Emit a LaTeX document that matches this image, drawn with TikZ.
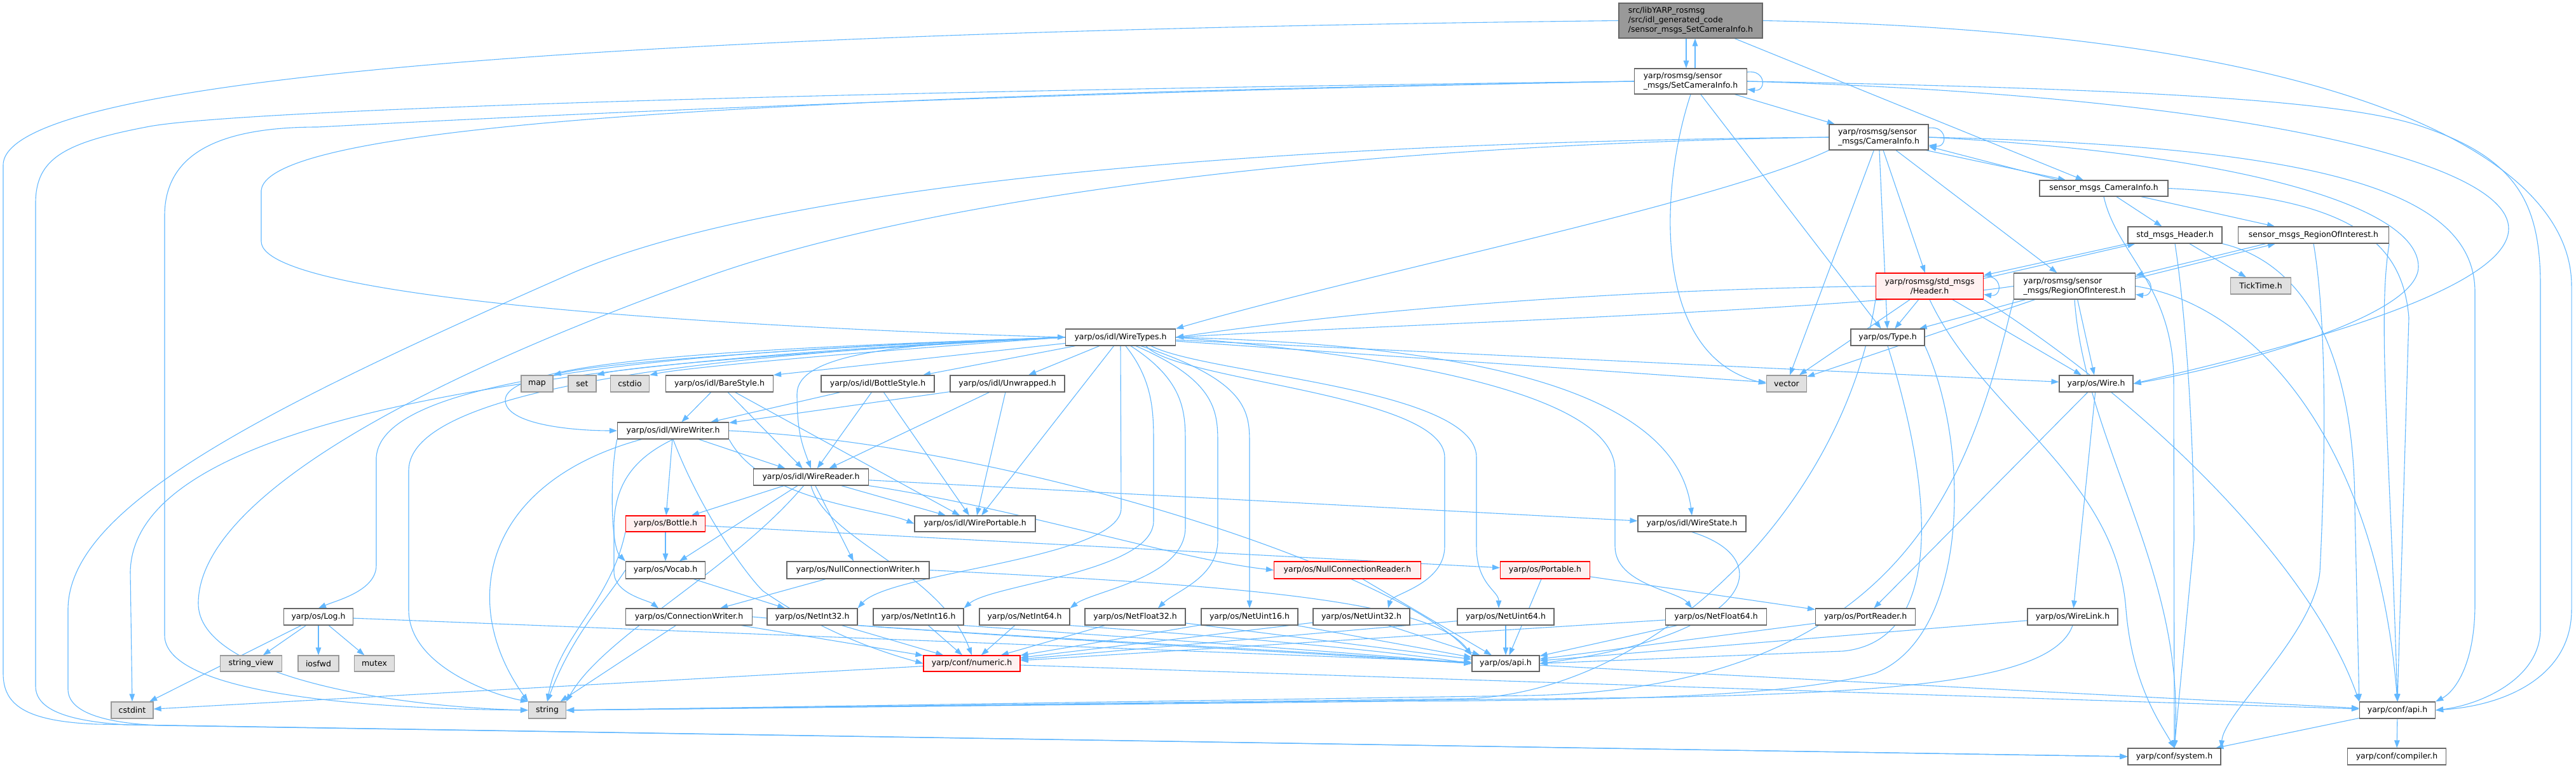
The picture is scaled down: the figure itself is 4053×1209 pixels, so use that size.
\documentclass[tikz,border=0pt]{standalone}
\usepackage{fontspec}
\setmainfont{DejaVu Sans}
\usepackage{xcolor}
\usepackage{tikz}
\usetikzlibrary{arrows.meta,backgrounds}
\definecolor{edgeblue}{HTML}{63B8FF}
\definecolor{boxline}{HTML}{666666}
\definecolor{extline}{HTML}{999999}
\definecolor{extfill}{HTML}{E0E0E0}
\definecolor{rootfill}{HTML}{999999}
\definecolor{truncfill}{HTML}{FFF0F0}
\tikzset{
  filebox/.style={
    rectangle, draw=boxline, fill=white, line width=1.2pt,
    font=\fontsize{12.5}{15}\selectfont, align=left, inner sep=0pt
  },
  extbox/.style={filebox, draw=extline, fill=extfill},
  truncbox/.style={filebox, draw=red, fill=truncfill},
  rootbox/.style={filebox, fill=rootfill},
  incl/.style={->, >={Triangle[length=12pt,width=8.5pt]}, line width=1.1pt, color=edgeblue},
}

\begin{document}
\begin{tikzpicture}[x=1pt, y=-1pt]
  \useasboundingbox (0,0) rectangle (4053,1209);

  % rosmsg headers
  \node[rootbox, minimum width=226pt, minimum height=55pt] (root) at (2660,32.5)
        {src/libYARP\_rosmsg\\/src/idl\_generated\_code\\/sensor\_msgs\_SetCameraInfo.h};
  \node[filebox, minimum width=177pt, minimum height=40pt] (sci) at (2660,128)
        {yarp/rosmsg/sensor\\\_msgs/SetCameraInfo.h};
  \node[filebox, minimum width=156pt, minimum height=40pt] (ci) at (2956,216)
        {yarp/rosmsg/sensor\\\_msgs/CameraInfo.h};
  \node[filebox, minimum width=202pt, minimum height=25pt] (smci) at (3310,296.5) {sensor\_msgs\_CameraInfo.h};
  \node[filebox, minimum width=148pt, minimum height=26pt] (smhdr) at (3422,370) {std\_msgs\_Header.h};
  \node[filebox, minimum width=237pt, minimum height=26pt] (smroi) at (3640,370) {sensor\_msgs\_RegionOfInterest.h};
  \node[truncbox, align=center, minimum width=169pt, minimum height=41pt] (hdr) at (3036,450.5)
        {yarp/rosmsg/std\_msgs\\/Header.h};
  \node[filebox, minimum width=191pt, minimum height=41pt] (roi) at (3264,450.5)
        {yarp/rosmsg/sensor\\\_msgs/RegionOfInterest.h};
  \node[extbox, minimum width=95pt, minimum height=26pt] (tick) at (3557,450) {TickTime.h};

  % yarp/os row
  \node[filebox, minimum width=116pt, minimum height=26pt] (type) at (2970,531) {yarp/os/Type.h};
  \node[extbox, minimum width=63pt, minimum height=26pt] (vec) at (2811,604) {vector};
  \node[filebox, minimum width=116pt, minimum height=26pt] (wire) at (3298,604) {yarp/os/Wire.h};

  % idl headers
  \node[filebox, minimum width=173pt, minimum height=26pt] (wtypes) at (1763,531) {yarp/os/idl/WireTypes.h};
  \node[extbox, minimum width=50pt, minimum height=26pt] (map) at (845,604) {map};
  \node[extbox, minimum width=44pt, minimum height=26pt] (set) at (916,604) {set};
  \node[extbox, minimum width=61pt, minimum height=26pt] (cstdio) at (991,604) {cstdio};
  \node[filebox, minimum width=169pt, minimum height=26pt] (bare) at (1132,604) {yarp/os/idl/BareStyle.h};
  \node[filebox, minimum width=178pt, minimum height=26pt] (bstyle) at (1381,604) {yarp/os/idl/BottleStyle.h};
  \node[filebox, minimum width=180pt, minimum height=26pt] (unwr) at (1585,604) {yarp/os/idl/Unwrapped.h};
  \node[filebox, minimum width=175pt, minimum height=26pt] (wwriter) at (1059,678) {yarp/os/idl/WireWriter.h};
  \node[filebox, minimum width=181pt, minimum height=26pt] (wreader) at (1276,751) {yarp/os/idl/WireReader.h};
  \node[filebox, minimum width=190pt, minimum height=25pt] (wport) at (1534,824.5) {yarp/os/idl/WirePortable.h};
  \node[filebox, minimum width=170pt, minimum height=25pt] (wstate) at (2662,824.5) {yarp/os/idl/WireState.h};

  % os headers
  \node[truncbox, minimum width=125pt, minimum height=25pt] (bottle) at (1047,824.5) {yarp/os/Bottle.h};
  \node[filebox, minimum width=125pt, minimum height=27pt] (vocab) at (1047,897.5) {yarp/os/Vocab.h};
  \node[filebox, minimum width=224pt, minimum height=27pt] (ncw) at (1350,897.5) {yarp/os/NullConnectionWriter.h};
  \node[truncbox, minimum width=231pt, minimum height=27pt] (ncr) at (2120,897.5) {yarp/os/NullConnectionReader.h};
  \node[truncbox, minimum width=141pt, minimum height=27pt] (portable) at (2431,897.5) {yarp/os/Portable.h};

  % net types row
  \node[filebox, minimum width=109pt, minimum height=26pt] (log) at (501,971) {yarp/os/Log.h};
  \node[filebox, minimum width=199pt, minimum height=26pt] (cw) at (1084,971) {yarp/os/ConnectionWriter.h};
  \node[filebox, minimum width=142pt, minimum height=26pt] (ni32) at (1278,971) {yarp/os/NetInt32.h};
  \node[filebox, minimum width=142pt, minimum height=26pt] (ni16) at (1445,971) {yarp/os/NetInt16.h};
  \node[filebox, minimum width=142pt, minimum height=26pt] (ni64) at (1612,971) {yarp/os/NetInt64.h};
  \node[filebox, minimum width=158pt, minimum height=26pt] (nf32) at (1786,971) {yarp/os/NetFloat32.h};
  \node[filebox, minimum width=152pt, minimum height=26pt] (nu16) at (1966,971) {yarp/os/NetUint16.h};
  \node[filebox, minimum width=152pt, minimum height=26pt] (nu32) at (2142,971) {yarp/os/NetUint32.h};
  \node[filebox, minimum width=152pt, minimum height=26pt] (nu64) at (2369,971) {yarp/os/NetUint64.h};
  \node[filebox, minimum width=159pt, minimum height=26pt] (nf64) at (2700,971) {yarp/os/NetFloat64.h};
  \node[filebox, minimum width=157pt, minimum height=26pt] (preader) at (2935,971) {yarp/os/PortReader.h};
  \node[filebox, minimum width=142pt, minimum height=26pt] (wlink) at (3261,971) {yarp/os/WireLink.h};

  % bottom rows
  \node[extbox, minimum width=97pt, minimum height=25pt] (sview) at (395,1044.5) {string\_view};
  \node[extbox, minimum width=64pt, minimum height=25pt] (iosfwd) at (501,1044.5) {iosfwd};
  \node[extbox, minimum width=63pt, minimum height=25pt] (mutex) at (589,1044.5) {mutex};
  \node[truncbox, minimum width=152pt, minimum height=25pt] (numeric) at (1529,1044.5) {yarp/conf/numeric.h};
  \node[filebox, minimum width=106pt, minimum height=25pt] (osapi) at (2369,1044.5) {yarp/os/api.h};
  \node[extbox, minimum width=66pt, minimum height=26pt] (cstdint) at (208,1118) {cstdint};
  \node[extbox, minimum width=59pt, minimum height=26pt] (str) at (861,1118) {string};
  \node[filebox, minimum width=119pt, minimum height=26pt] (capi) at (3772,1118) {yarp/conf/api.h};
  \node[filebox, minimum width=146pt, minimum height=26pt] (csys) at (3421,1191) {yarp/conf/system.h};
  \node[filebox, minimum width=155pt, minimum height=26pt] (ccomp) at (3771,1191) {yarp/conf/compiler.h};

  \begin{scope}[on background layer]
  % root file
  \draw[incl] ([xshift=-7pt]root.south) -- ([xshift=-7pt]sci.north);
  \draw[incl] ([xshift=7pt]sci.north) -- ([xshift=7pt]root.south);
  \draw[incl] (root) -- (smci);
  \draw[incl] (root.east) .. controls (3700,50) and (4046,250) .. (4046,450) -- (4046,960)
        .. controls (4046,1060) and (3950,1110) .. (capi.east);
  \draw[incl] (root.west) .. controls (1000,50) and (5,120) .. (5,260) -- (5,1060)
        .. controls (5,1110) and (40,1135) .. (150,1140) -- (csys.west);

  % SetCameraInfo
  \draw[incl] ([yshift=-6pt]sci.north east) .. controls +(30,-4) and +(30,4) .. ([yshift=8pt]sci.south east);
  \draw[incl] (sci) -- (ci);
  \draw[incl] (sci) -- (type);
  \draw[incl] (sci.south) .. controls (2610,300) and (2600,560) .. (vec.west);
  \draw[incl] (sci.west) .. controls (1300,150) and (420,190) .. (411,300) -- (411,380)
        .. controls (411,480) and (1300,520) .. (wtypes.west);
  \draw[incl] (sci.west) .. controls (1200,145) and (350,175) .. (230,200)
        .. controls (100,225) and (56,250) .. (56,320) -- (56,1080)
        .. controls (56,1115) and (100,1135) .. (200,1141) -- (csys.west);
  \draw[incl] (sci.west) .. controls (1400,150) and (600,195) .. (500,200)
        .. controls (330,200) and (259,250) .. (259,340) -- (259,1000)
        .. controls (259,1080) and (500,1115) .. (str.west);
  \draw[incl] (sci.east) .. controls (3500,150) and (3947,250) .. (3947,360)
        .. controls (3947,470) and (3500,570) .. (wire.east);
  \draw[incl] (sci.east) .. controls (3400,140) and (3700,160) .. (3813,200)
        .. controls (3960,250) and (3997,320) .. (3997,450) -- (3997,990)
        .. controls (3997,1070) and (3900,1110) .. (capi.east);

  % CameraInfo
  \draw[incl] ([yshift=-6pt]ci.north east) .. controls +(30,-4) and +(30,4) .. ([yshift=8pt]ci.south east);
  \draw[incl] ([xshift=-4pt]ci.south east) -- ([xshift=-60pt]smci.north);
  \draw[incl] ([xshift=-72pt]smci.north) -- ([yshift=6pt]ci.south east);
  \draw[incl] (ci) -- (hdr);
  \draw[incl] (ci) -- (roi);
  \draw[incl] (ci) -- (type);
  \draw[incl] (ci) -- (vec);
  \draw[incl] (ci.south west) .. controls (2700,320) and (2150,430) .. (wtypes.north east);
  \draw[incl] (ci.east) .. controls (3500,240) and (3805,320) .. (3805,420)
        .. controls (3805,500) and (3500,580) .. (wire.east);
  \draw[incl] (ci.east) .. controls (3650,230) and (3894,300) .. (3894,460) -- (3894,950)
        .. controls (3894,1050) and (3860,1090) .. (capi.north east);
  \draw[incl] (ci.west) .. controls (1900,225) and (1200,300) .. (900,430)
        .. controls (400,650) and (107,800) .. (107,960) -- (107,1085)
        .. controls (107,1120) and (160,1138) .. (250,1142) -- (csys.west);
  \draw[incl] (ci.west) .. controls (2000,230) and (1400,330) .. (1100,440)
        .. controls (600,620) and (312,800) .. (312,950)
        .. controls (312,1060) and (600,1112) .. (str.west);

  % generated message headers
  \draw[incl] (smci) -- (smhdr);
  \draw[incl] (smci) -- (smroi);
  \draw[incl] (smci.south) .. controls (3330,400) and (3420,450) .. (3420,600) -- (csys.north);
  \draw[incl] (smci.east) .. controls (3700,310) and (3780,380) .. (3790,500) -- (capi.north);
  \draw[incl] (smhdr.south west) -- ([yshift=-4pt]hdr.north east);
  \draw[incl] ([yshift=-9pt]hdr.north east) -- ([xshift=12pt]smhdr.south west);
  \draw[incl] (smhdr) -- (tick);
  \draw[incl] (smhdr.south) .. controls (3440,500) and (3452,700) .. (3452,850) -- (csys.north);
  \draw[incl] (smhdr.south east) .. controls (3650,420) and (3705,600) .. (3705,800) -- (capi.north west);
  \draw[incl] ([xshift=-75pt]smroi.south) -- ([yshift=-4pt]roi.north east);
  \draw[incl] ([yshift=-9pt]roi.north east) -- ([xshift=-60pt]smroi.south);
  \draw[incl] (smroi.south) .. controls (3660,500) and (3660,700) .. (3650,900)
        .. controls (3640,1000) and (3500,1120) .. (csys.north east);
  \draw[incl] (smroi.south east) .. controls (3740,500) and (3760,700) .. (capi.north);

  % Header
  \draw[incl] ([yshift=-6pt]hdr.north east) .. controls +(30,-4) and +(30,4) .. ([yshift=8pt]hdr.south east);
  \draw[incl] (hdr) -- (type);
  \draw[incl] (hdr) -- (vec);
  \draw[incl] (hdr) -- (wire);
  \draw[incl] (hdr.west) .. controls (2600,455) and (2200,480) .. (wtypes.east);
  \draw[incl] (hdr.south) .. controls (3120,650) and (3330,750) .. (3345,960)
        .. controls (3355,1080) and (3400,1140) .. (csys.north);
  \draw[incl] (hdr.south east) .. controls (3400,650) and (3640,900) .. (capi.north west);
  \draw[incl] (hdr.south west) .. controls (2900,800) and (2600,1095) .. (2300,1100) -- (str.east);

  % RegionOfInterest
  \draw[incl] ([yshift=-6pt]roi.north east) .. controls +(30,-4) and +(30,4) .. ([yshift=8pt]roi.south east);
  \draw[incl] (roi) -- (type);
  \draw[incl] (roi) -- (vec);
  \draw[incl] (roi) -- (wire);
  \draw[incl] (roi.west) .. controls (2900,490) and (2200,510) .. (wtypes.east);
  \draw[incl] (roi.south) .. controls (3280,700) and (3440,900) .. (csys.north);
  \draw[incl] (roi.east) .. controls (3550,480) and (3740,700) .. (capi.north);
  \draw[incl] (roi.south west) .. controls (3100,750) and (3000,1085) .. (2400,1095) -- (str.east);

  % Type, Wire and friends
  \draw[incl] (type.south) .. controls (3050,800) and (3050,1010) .. (2900,1025) -- (osapi.east);
  \draw[incl] (type.south east) .. controls (3100,700) and (3100,1000) .. (2950,1060)
        .. controls (2800,1100) and (2500,1102) .. (2200,1104) -- (str.east);
  \draw[incl] (wire) -- (preader);
  \draw[incl] (wire) -- (wlink);
  \draw[incl] (wstate.south) .. controls (2800,880) and (2760,1000) .. (osapi.east);
  \draw[incl] (preader) -- (osapi);
  \draw[incl] (wlink) -- (osapi);
  \draw[incl] (wlink.south) .. controls (3230,1070) and (3000,1090) .. (2600,1098) -- (str.east);

  % WireTypes
  \draw[incl] (wtypes.west) .. controls (1300,545) and (950,570) .. (map.north east);
  \draw[incl] (wtypes.west) .. controls (1350,548) and (1000,575) .. (set.north east);
  \draw[incl] (wtypes.west) .. controls (1400,550) and (1080,578) .. (cstdio.north east);
  \draw[incl] (wtypes) -- (bare.north east);
  \draw[incl] (wtypes) -- (bstyle);
  \draw[incl] (wtypes) -- (unwr);
  \draw[incl] (wtypes) -- (wport);
  \draw[incl] (wtypes) -- (vec);
  \draw[incl] (wtypes) -- (wire);
  \draw[incl] (wtypes.west) .. controls (1200,548) and (795,565) .. (795,630)
        .. controls (795,668) and (900,678) .. (wwriter.west);
  \draw[incl] (wtypes.west) .. controls (1400,540) and (1254,560) .. (1254,620)
        .. controls (1254,680) and (1262,700) .. (wreader.north);
  \draw[incl] (wtypes.east) .. controls (2400,545) and (2640,640) .. (wstate.north);
  \draw[incl] (wtypes.west) .. controls (1000,555) and (600,600) .. (592,720) -- (592,890)
        .. controls (592,930) and (530,945) .. (log.north);
  \draw[incl] (wtypes.west) .. controls (1050,560) and (645,620) .. (643,740) -- (643,960)
        .. controls (643,1050) and (780,1095) .. (str.north west);
  \draw[incl] (wtypes.west) .. controls (900,565) and (210,650) .. (205,900) -- (cstdint.north);
  \draw[incl] (wtypes.south) -- (1764,800) .. controls (1764,880) and (1400,900) .. (ni32.north east);
  \draw[incl] ([xshift=8pt]wtypes.south) .. controls (1815,600) and (1815,650) .. (1815,700) -- (1815,820)
        .. controls (1815,900) and (1560,920) .. (ni16.north east);
  \draw[incl] ([xshift=16pt]wtypes.south) .. controls (1865,600) and (1865,650) .. (1865,700) -- (1865,830)
        .. controls (1865,910) and (1720,930) .. (ni64.north east);
  \draw[incl] ([xshift=24pt]wtypes.south) .. controls (1916,600) and (1916,650) .. (1916,700) -- (1916,850)
        .. controls (1916,910) and (1850,930) .. ([xshift=36pt]nf32.north);
  \draw[incl] ([xshift=32pt]wtypes.south) .. controls (1966,600) and (1966,650) .. (1966,700) -- (nu16.north);
  \draw[incl] ([xshift=40pt]wtypes.south) .. controls (1850,600) and (2273,620) .. (2273,720) -- (2273,860)
        .. controls (2273,920) and (2190,935) .. ([xshift=42pt]nu32.north);
  \draw[incl] ([xshift=48pt]wtypes.south) .. controls (1900,590) and (2323,610) .. (2323,720) -- (2323,860)
        .. controls (2323,920) and (2358,930) .. ([xshift=-11pt]nu64.north);
  \draw[incl] (wtypes.east) .. controls (2200,560) and (2541,620) .. (2541,740) -- (2541,860)
        .. controls (2541,920) and (2640,930) .. ([xshift=-38pt]nf64.north);

  % idl styles
  \draw[incl] (bare) -- (wwriter);
  \draw[incl] (bare) -- (wreader);
  \draw[incl] (bare) -- (wport);
  \draw[incl] (bstyle) -- (wwriter);
  \draw[incl] (bstyle) -- (wreader);
  \draw[incl] (bstyle) -- (wport);
  \draw[incl] (unwr) -- (wwriter);
  \draw[incl] (unwr) -- (wreader);
  \draw[incl] (unwr) -- (wport);

  % WireWriter
  \draw[incl] (wwriter) -- (wreader);
  \draw[incl] (wwriter) -- (bottle);
  \draw[incl] (wwriter.south west) .. controls (960,740) and (960,860) .. (vocab.north west);
  \draw[incl] (wwriter.south) .. controls (1000,720) and (966,760) .. (966,830) -- (966,900)
        .. controls (966,935) and (1020,945) .. ([xshift=-48pt]cw.north);
  \draw[incl] (wwriter) .. controls (760,760) and (720,950) .. (str.north west);
  \draw[incl] (wwriter.south east) .. controls (1200,790) and (1380,800) .. (wport.west);
  \draw[incl] (wwriter.east) .. controls (1600,700) and (2200,900) .. (osapi.north west);
  \draw[incl] (wwriter.south) .. controls (1100,800) and (1170,900) .. (1200,930)
        .. controls (1300,1000) and (1400,1030) .. (numeric.west);

  % WireReader
  \draw[incl] (wreader) -- (bottle);
  \draw[incl] (wreader) -- (vocab);
  \draw[incl] (wreader) -- (ncw);
  \draw[incl] (wreader.south east) .. controls (1600,800) and (1850,880) .. (ncr.west);
  \draw[incl] (wreader) -- (wstate);
  \draw[incl] (wreader) -- (wport);
  \draw[incl] (wreader) .. controls (1150,900) and (950,1000) .. (str.north east);
  \draw[incl] (wreader.south) .. controls (1300,850) and (1480,900) .. (numeric.north);

  % Bottle, Vocab, connections
  \draw[incl] (bottle) -- (vocab);
  \draw[incl] (bottle) -- (portable);
  \draw[incl] (bottle.south west) .. controls (960,950) and (880,1000) .. (str.north);
  \draw[incl] (vocab) -- (ni32);
  \draw[incl] (vocab.west) .. controls (950,950) and (900,1000) .. (str.north);
  \draw[incl] (ncw) -- (cw);
  \draw[incl] (ncw.east) .. controls (1900,920) and (2250,940) .. (osapi.north west);
  \draw[incl] (cw) -- (str);
  \draw[incl] (cw) -- (numeric);
  \draw[incl] (cw.east) .. controls (1500,1000) and (2000,1020) .. (osapi.west);
  \draw[incl] (ncr) -- (osapi);
  \draw[incl] (portable) -- (osapi);
  \draw[incl] (portable) -- (preader);

  % Log
  \draw[incl] (log) -- (cstdint);
  \draw[incl] (log) -- (sview);
  \draw[incl] (log) -- (iosfwd);
  \draw[incl] (log) -- (mutex);
  \draw[incl] (log) -- (osapi);

  % net types
  \draw[incl] (ni32) -- (numeric);
  \draw[incl] (ni32.south east) .. controls (1700,1010) and (2100,1030) .. (osapi.west);
  \draw[incl] (ni16) -- (numeric);
  \draw[incl] (ni16.south east) .. controls (1800,1005) and (2100,1025) .. (osapi.west);
  \draw[incl] (ni64) -- (numeric);
  \draw[incl] (ni64.south east) .. controls (1900,1000) and (2150,1020) .. (osapi.west);
  \draw[incl] (nf32) -- (numeric);
  \draw[incl] (nf32) -- (osapi);
  \draw[incl] (nu16) -- (numeric);
  \draw[incl] (nu16) -- (osapi);
  \draw[incl] (nu32) -- (numeric);
  \draw[incl] (nu32) -- (osapi);
  \draw[incl] (nu64) -- (numeric);
  \draw[incl] (nu64) -- (osapi);
  \draw[incl] (nf64) -- (numeric);
  \draw[incl] (nf64) -- (osapi);

  % conf
  \draw[incl] (numeric) -- (cstdint);
  \draw[incl] (numeric) -- (capi);
  \draw[incl] (osapi) -- (capi);
  \draw[incl] (capi) -- (csys);
  \draw[incl] (capi) -- (ccomp);
  \end{scope}

\end{tikzpicture}
\end{document}
